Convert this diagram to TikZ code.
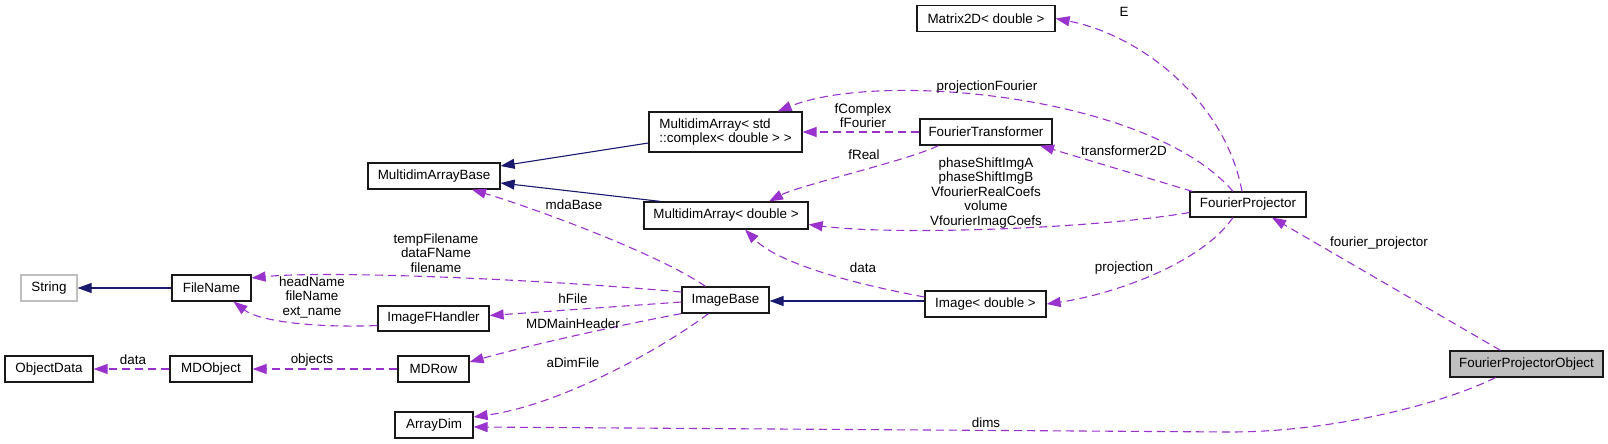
\documentclass[tikz,border=0pt]{standalone}
\usepackage{fontspec}
\setmainfont{Liberation Sans}
\usepackage{tikz}
\usetikzlibrary{arrows.meta,calc}
\definecolor{usecol}{HTML}{9A32CD}
\definecolor{inhcol}{HTML}{191970}
\definecolor{boxgray}{HTML}{BFBFBF}
\newcommand{\dgfont}{\fontsize{13.4}{14.5}\selectfont}

\begin{document}
\begin{tikzpicture}[x=1pt,y=-1pt,
  cls/.style={draw=black!90,line width=1.2pt,fill=white,minimum height=26pt,inner sep=2pt,font=\dgfont},
  lbl/.style={inner sep=0pt,font=\dgfont,align=center},
  inh/.style={draw=inhcol,line width=1.1pt,-{Triangle[length=14pt,width=10pt]}},
  use/.style={draw=usecol,line width=1.1pt,dash pattern=on 8pt off 5pt,-{Triangle[length=14pt,width=10pt]}}]
  \useasboundingbox (0,0) rectangle (1608,444);

  % classes
  \node[cls,minimum width=138pt] (m2d) at (986,18.5) {Matrix2D< double >};
  \node[cls,minimum width=153pt,minimum height=40pt,align=left] (macx) at (725.5,132) {MultidimArray< std\\::complex< double > >};
  \node[cls,minimum width=132pt] (ft) at (986,132) {FourierTransformer};
  \node[cls,minimum width=132pt] (mab) at (434,176) {MultidimArrayBase};
  \node[cls,minimum width=164pt,minimum height=27pt] (mad) at (726,215.5) {MultidimArray< double >};
  \node[cls,minimum width=116pt,minimum height=25pt] (fp) at (1248,204.5) {FourierProjector};
  \node[cls,draw=boxgray,minimum width=56pt] (str) at (49,288) {String};
  \node[cls,minimum width=79pt] (fn) at (211.5,288) {FileName};
  \node[cls,minimum width=87pt] (ib) at (725.5,300) {ImageBase};
  \node[cls,minimum width=111pt,minimum height=25pt] (ifh) at (433.5,318.5) {ImageFHandler};
  \node[cls,minimum width=121pt] (img) at (985.5,304) {Image< double >};
  \node[cls,minimum width=88pt] (od) at (49,369) {ObjectData};
  \node[cls,minimum width=82pt] (mdo) at (211,369) {MDObject};
  \node[cls,minimum width=71pt] (mdr) at (433.5,369) {MDRow};
  \node[cls,fill=boxgray,minimum width=153pt] (fpo) at (1526.5,364) {FourierProjectorObject};
  \node[cls,minimum width=78pt] (ad) at (434,425) {ArrayDim};

  % inheritance
  \draw[inh] (fn) -- (str);
  \draw[inh] ($(macx.west)+(0,11)$) -- ($(mab.east)+(0,-10)$);
  \draw[inh] ($(mad.north west)+(17,0)$) -- ($(mab.east)+(0,7)$);
  \draw[inh] ($(img.west)+(0,-3)$) -- ($(ib.east)+(0,1)$);

  % members
  \draw[use] ($(fp.north)+(-6,0)$) .. controls (1225,100) and (1140,35) .. (m2d.east);
  \draw[use] ($(fp.north)+(-15,0)$) .. controls (1150,95) and (880,70) .. ($(macx.north east)+(-25,0)$);
  \draw[use] (ft) -- (macx);
  \draw[use] ($(ft.south west)+(19,0)$) .. controls (910,160) and (800,185) .. ($(mad.north)+(43,0)$);
  \draw[use] ($(fp.north west)+(3,0)$) -- ($(ft.south)+(54,0)$);
  \draw[use] ($(fp.west)+(0,8)$) .. controls (1100,228) and (900,236) .. ($(mad.east)+(0,9)$);
  \draw[use] ($(fp.south)+(-15,0)$) .. controls (1200,265) and (1110,295) .. (img.east);
  \draw[use] ($(fpo.north)+(-26,0)$) -- ($(fp.south)+(24,0)$);
  \draw[use] ($(fpo.south)+(-31,0)$) .. controls (1440,405) and (1330,432) .. (1230,432) -- ($(ad.east)+(0,2)$);
  \draw[use] ($(ib.north)+(-20,0)$) .. controls (660,255) and (540,210) .. ($(mab.south)+(38,0)$);
  \draw[use] ($(img.west)+(0,-7)$) .. controls (860,285) and (780,265) .. ($(mad.south)+(19,0)$);
  \draw[use] ($(ib.west)+(0,-8)$) .. controls (550,280) and (330,270) .. ($(fn.east)+(0,-10)$);
  \draw[use] ($(ifh.west)+(0,7)$) .. controls (320,328) and (260,322) .. ($(fn.south)+(22,0)$);
  \draw[use] ($(ib.west)+(0,2)$) -- ($(ifh.east)+(0,-3)$);
  \draw[use] (ib.south west) .. controls (620,325) and (530,345) .. ($(mdr.east)+(0,-7)$);
  \draw[use] ($(ib.south)+(-17,0)$) .. controls (660,350) and (560,405) .. ($(ad.east)+(0,-8)$);
  \draw[use] (mdr) -- (mdo);
  \draw[use] (mdo) -- (od);

  % member names
  \node[lbl] (lE) at (1124,12) {E};
  \node[lbl] (lpf) at (987,87) {projectionFourier};
  \node[lbl] (lfc) at (863,115.5) {fComplex\\fFourier};
  \node[lbl] (lfr) at (864,155) {fReal};
  \node[lbl] (lt2) at (1124,151) {transformer2D};
  \node[lbl] (lps) at (986,193) {phaseShiftImgA\\phaseShiftImgB\\VfourierRealCoefs\\volume\\VfourierImagCoefs};
  \node[lbl] (lpr) at (1124,268) {projection};
  \node[lbl] (lfpj) at (1379,243) {fourier\_projector};
  \node[lbl] (ldim) at (986,423) {dims};
  \node[lbl] (lmda) at (574,205) {mdaBase};
  \node[lbl] (ldat) at (863,268) {data};
  \node[lbl] (ltf) at (436,253) {tempFilename\\dataFName\\filename};
  \node[lbl] (lhn) at (312,297) {headName\\fileName\\ext\_name};
  \node[lbl] (lhf) at (573,299) {hFile};
  \node[lbl] (lmh) at (573,324) {MDMainHeader};
  \node[lbl] (lad) at (573,363) {aDimFile};
  \node[lbl] (lob) at (312,360) {objects};
  \node[lbl] (lod) at (133,360) {data};
\end{tikzpicture}
\end{document}
